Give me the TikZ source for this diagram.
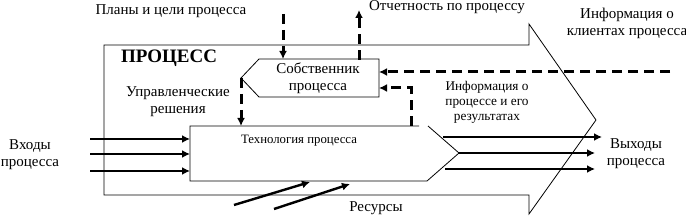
\documentclass[tikz,border=0pt]{standalone}
\usepackage{fontspec}
\setmainfont{Liberation Serif}
\usetikzlibrary{arrows.meta}
\tikzset{
  thin line/.style={line width=0.8pt},
  flow/.style={line width=2.8pt,-{Latex[length=8pt,width=8pt]}},
  dflow/.style={line width=3pt,dash pattern=on 10pt off 6pt,-{Latex[length=8pt,width=8pt]}},
  lbl/.style={inner sep=0pt,align=center,font=\fontsize{15}{17}\selectfont},
  small lbl/.style={inner sep=0pt,align=center,font=\fontsize{13.3}{14.8}\selectfont},
}
\begin{document}
\begin{tikzpicture}[x=1pt,y=-1pt]
\useasboundingbox (0,0) rectangle (686,216);
% big process arrow
\draw[thin line] (104,45) -- (529,45) -- (529,24) -- (596,120) -- (529,214) -- (529,195) -- (104,195) -- cycle;
% technology box
\coordinate (tA) at (190,126);
\coordinate (tB) at (419,126);
\coordinate (tC) at (428,126);
\coordinate (tD) at (459,153);
\coordinate (tE) at (427,181);
\coordinate (tF) at (190,181);
\draw[thin line] (tB) -- (tA) -- (tF) -- (tE) -- (tD) -- (tC);
\node[inner sep=0pt,font=\fontsize{12.8}{14}\selectfont] (tech) at (299,141) {Технология процесса};
% owner box
\coordinate (oA) at (259,59);
\coordinate (oB) at (379,59);
\coordinate (oC) at (379,97);
\coordinate (oD) at (259,97);
\coordinate (oL) at (241,78);
\draw[thin line] (oA) -- (oB) -- (oC) -- (oD) -- (oL) -- cycle;
\node[lbl] (owner) at (318,78) {Собственник\\процесса};
% labels
\node[inner sep=0pt,font=\bfseries\fontsize{19}{21}\selectfont] (proc) at (169,58) {ПРОЦЕСС};
\node[lbl] (plans) at (171,11) {Планы и цели процесса};
\node[lbl] (report) at (447,7.5) {Отчетность по процессу};
\node[lbl] (clients) at (627,23.5) {Информация о\\клиентах процесса};
\node[lbl] (mgmt) at (178,101.5) {Управленческие\\решения};
\node[small lbl] (info) at (487,102.5) {Информация о\\процессе и его\\результатах};
\node[lbl] (inputs) at (30,155) {Входы\\процесса};
\node[lbl] (outputs) at (636,153.5) {Выходы\\процесса};
\node[lbl] (res) at (376,208) {Ресурсы};
% coordinates for connectors
\coordinate (plTop) at (283,14);
\coordinate (plBot) at (283,59);
\coordinate (reBot) at (359,60);
\coordinate (reTop) at (359,10);
\coordinate (mgTop) at (241,78);
\coordinate (mgBot) at (241,126);
\coordinate (clR) at (670,72);
\coordinate (clL) at (379,72);
\coordinate (ifB) at (411,126);
\coordinate (ifC) at (411,88);
\coordinate (ifL) at (379,88);
% dashed control arrows
\draw[dflow] (plTop) -- (plBot);
\draw[dflow] (reBot) -- (reTop);
\draw[dflow] (mgTop) -- (mgBot);
\draw[dflow] (clR) -- (clL);
\draw[dflow] (ifB) -- (ifC) -- (ifL);
% inputs
\foreach \y [count=\i] in {139,154,171} {
  \coordinate (in\i) at (90,\y);
  \coordinate (inE\i) at (190,\y);
  \draw[flow] (in\i) -- (inE\i);
}
% outputs
\coordinate (o1s) at (443,137); \coordinate (o1e) at (602,137);
\coordinate (o2s) at (459,153); \coordinate (o2e) at (595,153);
\coordinate (o3s) at (445,169); \coordinate (o3e) at (595,169);
\draw[flow] (o1s) -- (o1e);
\draw[flow] (o2s) -- (o2e);
\draw[flow] (o3s) -- (o3e);
% resources
\coordinate (r1s) at (234,205); \coordinate (r1e) at (310,182);
\coordinate (r2s) at (274,209); \coordinate (r2e) at (350,184);
\draw[flow,line width=2.4pt] (r1s) -- (r1e);
\draw[flow,line width=2.4pt] (r2s) -- (r2e);
\end{tikzpicture}
\end{document}
